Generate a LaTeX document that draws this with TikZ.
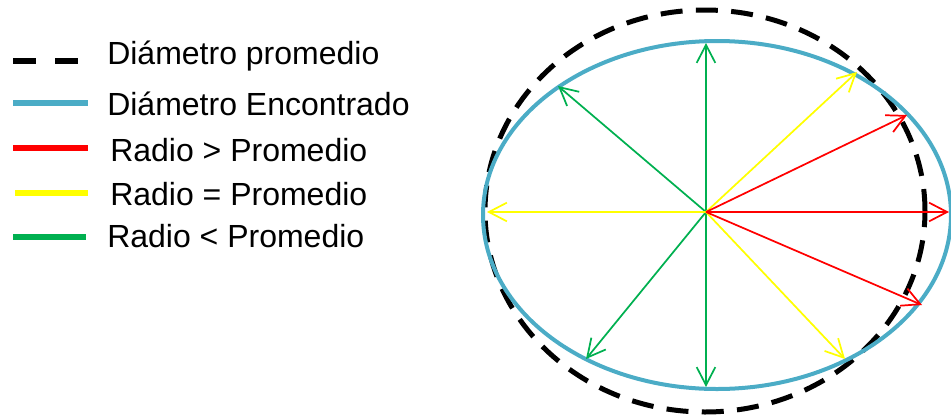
\documentclass[tikz,border=0pt]{standalone}
\usepackage{fontspec}
\setmainfont{Liberation Sans}
\usetikzlibrary{arrows.meta}

\definecolor{foundblue}{RGB}{75,172,198}
\definecolor{lessgreen}{RGB}{0,176,80}
\definecolor{eqyellow}{RGB}{255,255,0}
\definecolor{morered}{RGB}{255,0,0}

\begin{document}
\begin{tikzpicture}[
    x=0.75pt, y=-0.75pt,
    font=\fontsize{24}{28}\selectfont,
    % Define styles for the outlines, the legend and the radii
    avgline/.style={draw=black, line width=3.75pt, dash pattern=on 16.5pt off 10pt},
    foundline/.style={draw=foundblue, line width=3pt},
    swatch/.style={line width=4.5pt},
    keytext/.style={anchor=base west, inner sep=0pt},
    radial/.style={-{Straight Barb[length=13.5pt, width=14pt]}, line width=1.3pt},
    rmore/.style={radial, draw=morered},
    requal/.style={radial, draw=eqyellow},
    rless/.style={radial, draw=lessgreen}
]
\useasboundingbox (0,0) rectangle (951,415);

% --- Legend ---

\draw[swatch, draw=black, dash pattern=on 17.25pt off 14.25pt] (13,61) -- (79,61);
\node[keytext] (kavg) at (107,64) {Diámetro promedio};

\draw[swatch, draw=foundblue] (13,103) -- (88,103);
\node[keytext] (kfound) at (107,115) {Diámetro Encontrado};

\draw[swatch, draw=morered] (13,148) -- (88,148);
\node[keytext] (kmore) at (110,161.5) {Radio > Promedio};

\draw[swatch, draw=eqyellow] (15,193) -- (88,193);
\node[keytext] (kequal) at (110,205.5) {Radio = Promedio};

\draw[swatch, draw=lessgreen] (13,237) -- (86,237);
\node[keytext] (kless) at (107,247.5) {Radio < Promedio};

% --- Outlines ---

% Average diameter
\draw[avgline] (705,211) ellipse [x radius=165pt, y radius=150.75pt];
% Measured diameter
\draw[foundline] (717,215) ellipse [x radius=175.5pt, y radius=130.5pt];

% --- Radii ---

\coordinate (c) at (706,212);

\coordinate (gup) at (706,43);
\coordinate (gdown) at (706,387);
\coordinate (gul) at (558,86);
\coordinate (gll) at (586,359);

\coordinate (yleft) at (487,212);
\coordinate (yur) at (857,72);
\coordinate (ylr) at (845,359);

\coordinate (rur) at (907,115);
\coordinate (rmid) at (949,212);
\coordinate (rlr) at (922,305);

% Shorter than the average
\draw[rless] (c) -- (gup);
\draw[rless] (c) -- (gdown);
\draw[rless] (c) -- (gul);
\draw[rless] (c) -- (gll);

% Equal to the average
\draw[requal] (c) -- (yleft);
\draw[requal] (c) -- (yur);
\draw[requal] (c) -- (ylr);

% Longer than the average
\draw[rmore] (c) -- (rur);
\draw[rmore] (c) -- (rmid);
\draw[rmore] (c) -- (rlr);

\end{tikzpicture}
\end{document}
